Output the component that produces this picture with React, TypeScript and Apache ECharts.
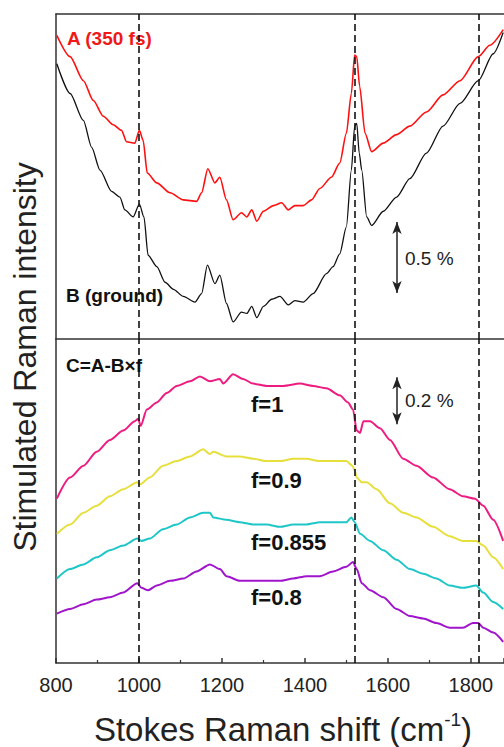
import React, { useEffect, useRef } from 'react';
import * as echarts from 'echarts';

// Top panel (values in %, offset from panel bottom)
const xA = [802, 834, 866, 890, 914, 938, 958, 970, 990, 1001, 1010, 1020, 1043, 1075, 1107, 1139, 1151, 1166, 1183, 1195, 1211, 1227, 1247, 1260, 1272, 1284, 1300, 1324, 1344, 1360, 1376, 1396, 1416, 1436, 1464, 1484, 1500, 1512, 1520, 1525, 1532, 1545, 1561, 1589, 1621, 1653, 1693, 1733, 1774, 1818, 1846, 1878];
const yA = [2.14, 1.99, 1.82, 1.68, 1.57, 1.51, 1.47, 1.39, 1.38, 1.47, 1.40, 1.17, 1.10, 1.03, 0.98, 0.97, 1.03, 1.20, 1.10, 1.14, 0.98, 0.84, 0.89, 0.86, 0.91, 0.83, 0.90, 0.94, 0.96, 0.91, 0.94, 0.94, 0.98, 1.06, 1.14, 1.24, 1.45, 1.73, 2.00, 1.99, 1.78, 1.45, 1.32, 1.38, 1.44, 1.50, 1.60, 1.72, 1.82, 1.99, 2.07, 2.18];

const xB = [802, 834, 866, 886, 906, 934, 954, 966, 986, 1001, 1012, 1022, 1043, 1063, 1083, 1107, 1135, 1151, 1165, 1183, 1195, 1211, 1227, 1247, 1260, 1272, 1284, 1300, 1320, 1340, 1360, 1376, 1396, 1420, 1452, 1468, 1484, 1500, 1512, 1520, 1525, 1531, 1537, 1549, 1561, 1589, 1621, 1653, 1693, 1733, 1774, 1818, 1854, 1878];
const yB = [1.94, 1.73, 1.54, 1.35, 1.19, 1.04, 1.00, 0.91, 0.86, 0.95, 0.86, 0.59, 0.51, 0.40, 0.35, 0.30, 0.26, 0.32, 0.52, 0.39, 0.45, 0.25, 0.12, 0.19, 0.18, 0.23, 0.15, 0.23, 0.28, 0.30, 0.24, 0.27, 0.26, 0.32, 0.46, 0.51, 0.60, 0.79, 1.19, 1.50, 1.52, 1.31, 1.19, 0.86, 0.80, 0.90, 1.00, 1.13, 1.31, 1.50, 1.66, 1.82, 2.01, 2.16];

// Bottom panel: C = A - B*f
const xC1 = [802, 834, 866, 898, 930, 962, 990, 998, 1004, 1019, 1043, 1067, 1091, 1123, 1147, 1171, 1195, 1203, 1227, 1251, 1275, 1308, 1348, 1388, 1420, 1452, 1484, 1504, 1516, 1525, 1533, 1541, 1557, 1581, 1605, 1637, 1669, 1709, 1749, 1781, 1810, 1830, 1854, 1878];
const yC1 = [0.70, 0.79, 0.84, 0.90, 0.95, 0.99, 1.03, 1.04, 1.01, 1.08, 1.11, 1.15, 1.18, 1.20, 1.22, 1.20, 1.21, 1.19, 1.23, 1.21, 1.19, 1.18, 1.18, 1.19, 1.18, 1.17, 1.14, 1.11, 1.08, 0.99, 0.98, 1.03, 1.03, 1.00, 0.95, 0.87, 0.84, 0.79, 0.74, 0.71, 0.70, 0.67, 0.61, 0.52];

const xC2 = [802, 834, 866, 898, 930, 962, 996, 1002, 1026, 1058, 1091, 1123, 1155, 1171, 1179, 1211, 1243, 1275, 1308, 1340, 1372, 1404, 1436, 1468, 1500, 1515, 1520, 1525, 1537, 1549, 1573, 1605, 1637, 1669, 1709, 1749, 1781, 1813, 1830, 1854, 1878];
const yC2 = [0.55, 0.59, 0.64, 0.67, 0.71, 0.74, 0.77, 0.76, 0.79, 0.84, 0.86, 0.88, 0.91, 0.89, 0.90, 0.88, 0.88, 0.87, 0.86, 0.86, 0.87, 0.87, 0.86, 0.86, 0.86, 0.84, 0.82, 0.79, 0.77, 0.77, 0.74, 0.68, 0.64, 0.62, 0.58, 0.54, 0.52, 0.52, 0.50, 0.45, 0.40];

const xC3 = [802, 834, 866, 898, 930, 962, 996, 1006, 1026, 1058, 1091, 1123, 1155, 1171, 1179, 1211, 1243, 1275, 1308, 1340, 1372, 1404, 1436, 1468, 1500, 1512, 1520, 1533, 1557, 1589, 1621, 1653, 1685, 1717, 1749, 1781, 1813, 1830, 1854, 1878];
const yC3 = [0.36, 0.40, 0.42, 0.45, 0.48, 0.50, 0.53, 0.52, 0.53, 0.57, 0.59, 0.62, 0.64, 0.64, 0.62, 0.61, 0.60, 0.59, 0.59, 0.58, 0.59, 0.59, 0.60, 0.60, 0.60, 0.62, 0.60, 0.55, 0.52, 0.48, 0.44, 0.40, 0.38, 0.36, 0.33, 0.32, 0.33, 0.30, 0.26, 0.23];

const xC4 = [802, 834, 866, 898, 930, 962, 996, 1006, 1022, 1043, 1075, 1107, 1139, 1171, 1195, 1211, 1243, 1275, 1308, 1340, 1372, 1404, 1436, 1468, 1500, 1516, 1525, 1537, 1557, 1589, 1621, 1653, 1685, 1717, 1749, 1781, 1805, 1818, 1830, 1854, 1878];
const yC4 = [0.21, 0.23, 0.25, 0.27, 0.28, 0.30, 0.34, 0.32, 0.31, 0.33, 0.35, 0.36, 0.39, 0.42, 0.40, 0.37, 0.35, 0.35, 0.35, 0.35, 0.36, 0.37, 0.37, 0.39, 0.41, 0.43, 0.40, 0.34, 0.31, 0.28, 0.23, 0.20, 0.19, 0.17, 0.15, 0.15, 0.17, 0.17, 0.15, 0.13, 0.09];

const fLabels = ['f=1', 'f=0.9', 'f=0.855', 'f=0.8'];
const dashedAt = [1000, 1520, 1820];
const xMin = 800;
const xMax = 1880;
const xStep = 200;
const topScaleBar = { x: 1622, from: 0.324, to: 0.824, label: '0.5 %' };
const bottomScaleBar = { x: 1622, from: 1.017, to: 1.217, label: '0.2 %' };

const zip = (xs: number[], ys: number[]) => xs.map((x, i) => [x, ys[i]]);

export default function App() {
  const ref = useRef<HTMLDivElement>(null);

  useEffect(() => {
    if (!ref.current) return;
    const chart = echarts.init(ref.current, null, { renderer: 'svg' });
    const font = '"Liberation Sans", Arial, sans-serif';
    const axisLine = { show: true, onZero: false, lineStyle: { color: '#333', width: 1.5 } };
    const noTick = { show: false };
    const noLabel = { show: false };
    const noSplit = { show: false };
    const dashedLines = {
      silent: true,
      symbol: 'none',
      label: { show: false },
      lineStyle: { type: [7, 4], color: '#111', width: 1.6 },
      data: dashedAt.map((v) => ({ xAxis: v })),
    };
    const scaleBar = (b: { x: number; from: number; to: number }) => ({
      silent: true,
      symbol: ['arrow', 'arrow'],
      symbolSize: [7, 12],
      label: { show: false },
      lineStyle: { type: 'solid', color: '#222', width: 1.5 },
      data: [[{ coord: [b.x, b.from] }, { coord: [b.x, b.to] }]],
    });
    const line = (name: string, data: number[][], color: string, width: number, idx: number, extra: any = {}) => ({
      name,
      type: 'line',
      xAxisIndex: idx,
      yAxisIndex: idx,
      data,
      showSymbol: false,
      symbol: 'none',
      smooth: 0.25,
      smoothMonotone: 'x',
      lineStyle: { color, width },
      itemStyle: { color },
      silent: true,
      ...extra,
    });

    const boldText = (text: string, x: number, y: number, size: number, color = '#111') => ({
      type: 'text',
      x,
      y,
      silent: true,
      style: {
        text,
        fill: color,
        fontSize: size,
        fontWeight: 'bold',
        fontFamily: font,
        align: 'left',
        verticalAlign: 'middle',
      },
    });
    const plainText = (text: string, x: number, y: number, size: number) => ({
      type: 'text',
      x,
      y,
      silent: true,
      style: {
        text,
        fill: '#222',
        fontSize: size,
        fontFamily: font,
        align: 'left',
        verticalAlign: 'middle',
      },
    });

    const option: any = {
      animation: false,
      backgroundColor: '#ffffff',
      grid: [
        { left: 56, top: 14, width: 448, height: 325 },
        { left: 56, top: 339, width: 448, height: 324 },
      ],
      xAxis: [
        { type: 'value', gridIndex: 0, min: xMin, max: xMax, position: 'bottom', axisLine, axisTick: noTick, axisLabel: noLabel, splitLine: noSplit },
        {
          type: 'value',
          gridIndex: 1,
          min: xMin,
          max: xMax,
          interval: xStep,
          position: 'bottom',
          axisLine,
          axisTick: { show: true, inside: true, length: 5, lineStyle: { color: '#333', width: 1.5 } },
          minorTick: { show: true, splitNumber: 2, length: 3, lineStyle: { color: '#333', width: 1.2 } },
          axisLabel: {
            fontSize: 20,
            color: '#222',
            margin: 12,
            fontFamily: font,
            showMaxLabel: false,
            formatter: (v: number) => (v % xStep === 0 ? String(v) : ''),
          },
          splitLine: noSplit,
        },
        { type: 'value', gridIndex: 0, min: xMin, max: xMax, position: 'top', axisLine, axisTick: noTick, axisLabel: noLabel, splitLine: noSplit },
      ],
      yAxis: [
        { type: 'value', gridIndex: 0, min: 0, max: 2.29, axisLine, axisTick: noTick, axisLabel: noLabel, splitLine: noSplit },
        { type: 'value', gridIndex: 1, min: 0, max: 1.38, axisLine, axisTick: noTick, axisLabel: noLabel, splitLine: noSplit },
      ],
      series: [
        line('B (ground)', zip(xB, yB), '#111111', 1.3, 0, { markLine: scaleBar(topScaleBar) }),
        line('A (350 fs)', zip(xA, yA), '#ff1010', 1.6, 0, { markLine: dashedLines }),
        line('f=1', zip(xC1, yC1), '#ee1b80', 2, 1, { markLine: dashedLines }),
        line('f=0.9', zip(xC2, yC2), '#e6df3c', 2, 1, { markLine: scaleBar(bottomScaleBar) }),
        line('f=0.855', zip(xC3, yC3), '#1fc6c8', 2, 1),
        line('f=0.8', zip(xC4, yC4), '#a014cc', 2, 1),
      ],
      graphic: [
        {
          type: 'text',
          x: 25,
          y: 357,
          rotation: Math.PI / 2,
          silent: true,
          style: {
            text: 'Stimulated Raman intensity',
            fill: '#222',
            fontSize: 32,
            fontFamily: font,
            align: 'center',
            verticalAlign: 'middle',
          },
        },
        {
          type: 'text',
          x: 283,
          y: 729,
          silent: true,
          style: {
            text: '{a|Stokes Raman shift (cm}{s|-1}{a|)}',
            fill: '#222',
            fontFamily: font,
            align: 'center',
            verticalAlign: 'middle',
            rich: {
              a: { fontSize: 33, fontFamily: font, fill: '#222', lineHeight: 38 },
              s: { fontSize: 19, fontFamily: font, fill: '#222', lineHeight: 38, verticalAlign: 'top' },
            },
          },
        },
        boldText('A (350 fs)', 67, 38, 19, '#f01818'),
        boldText('B (ground)', 66, 295, 19),
        boldText('C=A-B×f', 66, 365, 19),
        plainText(topScaleBar.label, 405, 258, 19),
        plainText(bottomScaleBar.label, 405, 400, 19),
        boldText(fLabels[0], 251, 404, 22),
        boldText(fLabels[1], 251, 480, 22),
        boldText(fLabels[2], 251, 542, 22),
        boldText(fLabels[3], 251, 597, 22),
      ],
    };

    chart.setOption(option);
    return () => chart.dispose();
  }, []);

  return (
    <div
      ref={ref}
      style={{ position: 'fixed', left: 0, top: 0, width: 504, height: 747, background: '#fff' }}
    />
  );
}
